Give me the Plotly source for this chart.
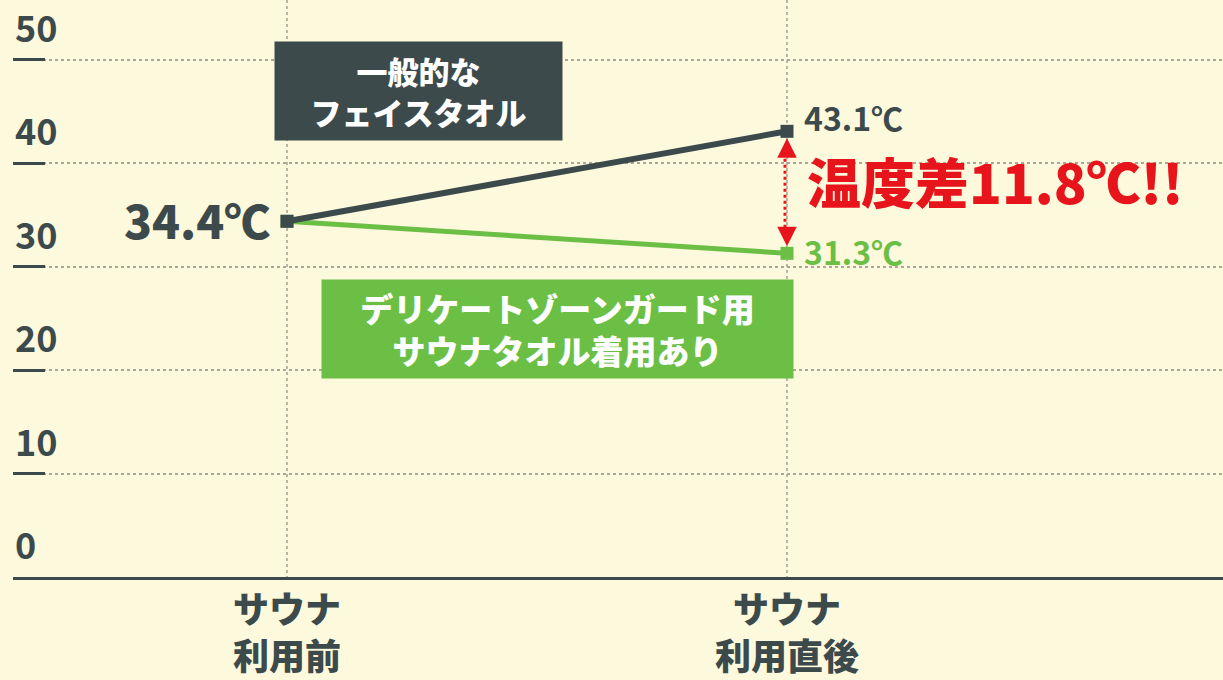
import plotly.graph_objects as go

categories = ["サウナ<br>利用前", "サウナ<br>利用直後"]
cat_pos = [0, 1]
general_towel = [34.4, 43.1]
delicate_towel = [34.4, 31.3]
y_ticks = [0, 10, 20, 30, 40, 50]
value_labels_general = ["34.4℃", "43.1℃"]
value_labels_delicate = ["", "31.3℃"]
diff_label = "温度差11.8℃!!"
general_name = "一般的な<br>フェイスタオル"
delicate_name = "デリケートゾーンガード用<br>サウナタオル着用あり"

BG = "#fcf9dc"
DARK = "#3c4a4c"
GREEN = "#6cbf45"
RED = "#e8141c"
FONT = "Noto Sans CJK JP"

fig = go.Figure()
fig.add_trace(go.Scatter(x=cat_pos, y=delicate_towel, mode="lines+markers",
                         line=dict(color=GREEN, width=5),
                         marker=dict(symbol="square", size=13, color=GREEN),
                         hoverinfo="skip", showlegend=False))
fig.add_trace(go.Scatter(x=cat_pos, y=general_towel, mode="lines+markers",
                         line=dict(color=DARK, width=6),
                         marker=dict(symbol="square", size=13, color=DARK),
                         hoverinfo="skip", showlegend=False))

ann = []
# y tick labels
for t in y_ticks:
    ann.append(dict(x=0, xref="paper", y=t, yref="y", text=str(t), showarrow=False,
                    xanchor="left", yanchor="bottom", yshift=6,
                    font=dict(family=FONT, size=36, color=DARK, weight="bold")))
# value labels
ann.append(dict(x=cat_pos[0], y=general_towel[0], text=value_labels_general[0], showarrow=False,
                xanchor="right", xshift=-15, yshift=2,
                font=dict(family=FONT, size=46, color=DARK, weight=900)))
ann.append(dict(x=cat_pos[1], y=general_towel[1], text=value_labels_general[1], showarrow=False,
                xanchor="left", xshift=15, yshift=14,
                font=dict(family=FONT, size=32, color=DARK, weight="bold")))
ann.append(dict(x=cat_pos[1], y=delicate_towel[1], text=value_labels_delicate[1], showarrow=False,
                xanchor="left", xshift=15, yshift=2,
                font=dict(family=FONT, size=32, color=GREEN, weight="bold")))
# difference text
ann.append(dict(x=cat_pos[1], y=(general_towel[1] + delicate_towel[1]) / 2, text=diff_label,
                showarrow=False, xanchor="left", xshift=18, yshift=12,
                font=dict(family=FONT, size=54, color=RED, weight=900)))
# arrows
ann.append(dict(x=cat_pos[1], y=general_towel[1], ax=0, ay=24, text="", showarrow=True,
                arrowhead=2, arrowsize=1.3, arrowwidth=3, arrowcolor=RED, standoff=7))
ann.append(dict(x=cat_pos[1], y=delicate_towel[1], ax=0, ay=-24, text="", showarrow=True,
                arrowhead=2, arrowsize=1.3, arrowwidth=3, arrowcolor=RED, standoff=7))
# series boxes
ann.append(dict(x=0.262, y=47.0, text=general_name, showarrow=False,
                width=287, height=98, bgcolor=DARK, borderpad=0,
                font=dict(family=FONT, size=31, color="white", weight=900)))
ann.append(dict(x=0.541, y=24.0, text=delicate_name, showarrow=False,
                width=471, height=98, bgcolor=GREEN, borderpad=0,
                font=dict(family=FONT, size=33, color="white", weight=900)))

fig.add_shape(type="line", x0=cat_pos[1] - 0.004, x1=cat_pos[1] - 0.004,
              y0=general_towel[1] - 1.5, y1=delicate_towel[1] + 1.5,
              line=dict(color=RED, width=3, dash="dot"))

fig.update_layout(
    width=1223, height=680,
    margin=dict(l=13, r=0, t=0, b=103),
    paper_bgcolor=BG, plot_bgcolor=BG,
    annotations=ann,
    xaxis=dict(range=[-0.548, 1.872], tickvals=cat_pos, ticktext=categories,
               showgrid=True, gridcolor="#b9b7a6", gridwidth=1.5, griddash="dot",
               showline=True, linecolor=DARK, linewidth=3, zeroline=False,
               ticks="", tickfont=dict(family=FONT, size=36, color=DARK, weight=900),
               fixedrange=True),
    yaxis=dict(range=[0, 55.8], tickvals=y_ticks, showticklabels=False,
               showgrid=True, gridcolor="#a9a79a", gridwidth=1.5, griddash="dot",
               zeroline=False, showline=False,
               ticks="inside", ticklen=32, tickwidth=3, tickcolor=DARK,
               fixedrange=True),
)

fig.write_html("out.html", config={"displayModeBar": False},
               post_script="document.body.style.margin='0';document.body.style.overflow='hidden';document.body.style.background='" + BG + "';")
